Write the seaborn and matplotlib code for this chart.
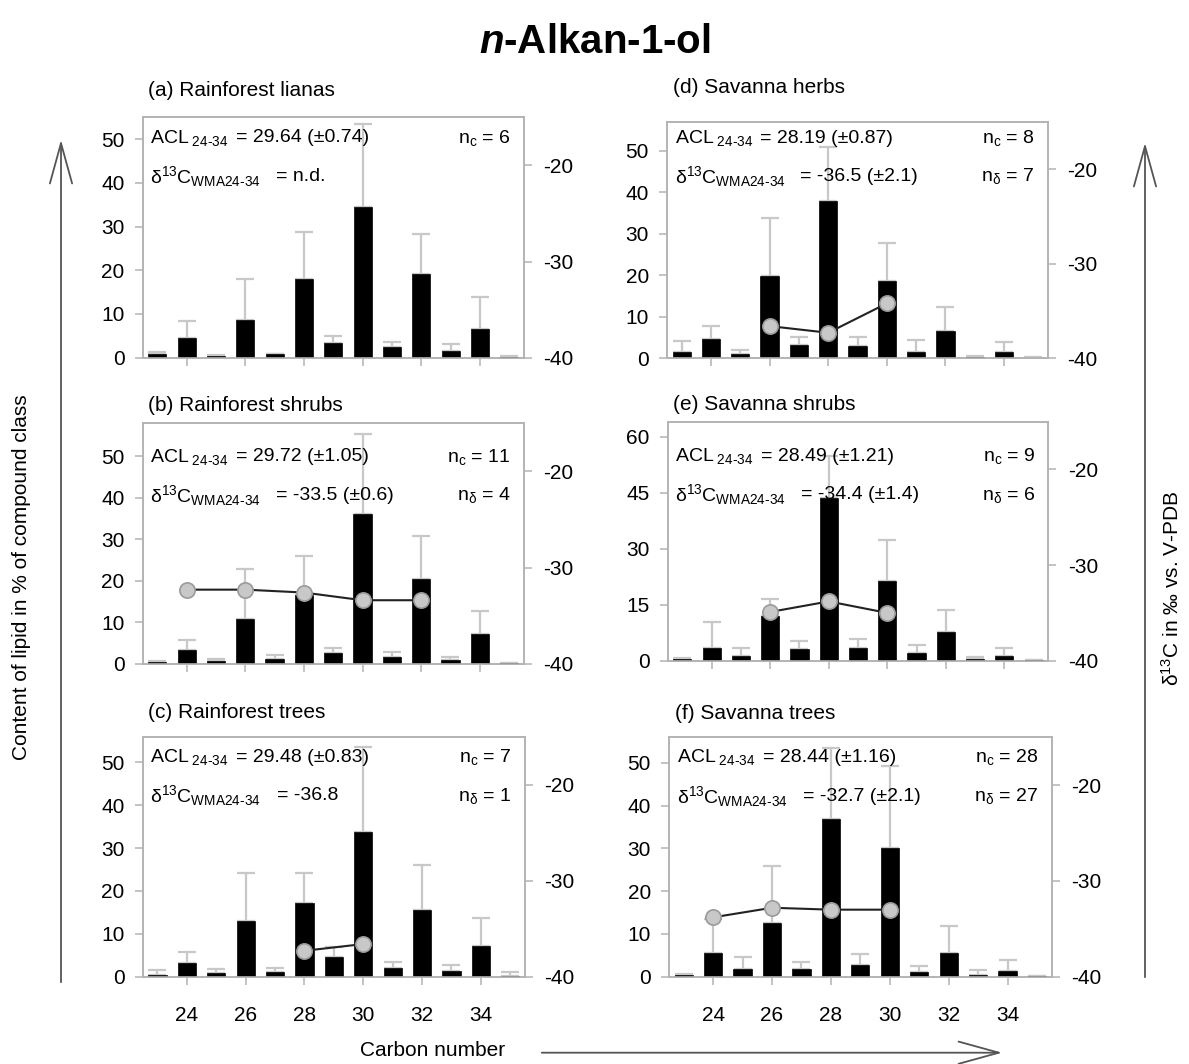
import matplotlib
matplotlib.use("Agg")
import matplotlib.pyplot as plt
from matplotlib.patches import FancyArrowPatch
import seaborn as sns

sns.set_theme(style="white")
plt.rcParams["font.family"] = ["Liberation Sans", "DejaVu Sans"]
plt.rcParams["mathtext.fontset"] = "custom"
plt.rcParams["mathtext.rm"] = "Liberation Sans"
plt.rcParams["mathtext.it"] = "Liberation Sans:italic"
plt.rcParams["mathtext.bf"] = "Liberation Sans:bold"
plt.rcParams["mathtext.bfit"] = "Liberation Sans:italic:bold"
plt.rcParams["mathtext.default"] = "regular"
plt.rcParams["axes.unicode_minus"] = False
plt.rcParams["text.color"] = "black"

# carbon chain length of each bar
carbon = list(range(23, 36))
even_ticks = [24, 26, 28, 30, 32, 34]

# mean content (% of compound class) and one SD
lianas_mean = [0.8, 4.5, 0.5, 8.7, 0.8, 18.1, 3.3, 34.4, 2.4, 19.2, 1.6, 6.6, 0.2]
lianas_sd = [0.4, 4.0, 0.1, 9.2, 0.1, 10.7, 1.7, 19.0, 1.3, 9.2, 1.5, 7.2, 0.1]

rf_shrubs_mean = [0.5, 3.3, 0.7, 10.7, 1.2, 16.6, 2.7, 36.2, 1.5, 20.5, 0.9, 7.2, 0.1]
rf_shrubs_sd = [0.1, 2.4, 0.4, 12.2, 0.9, 9.3, 1.2, 19.2, 1.3, 10.3, 0.6, 5.4, 0.05]

rf_trees_mean = [0.4, 3.3, 0.8, 12.9, 1.2, 17.1, 4.6, 33.7, 2.0, 15.6, 1.4, 7.2, 0.2]
rf_trees_sd = [1.1, 2.4, 0.9, 11.2, 0.8, 7.2, 2.4, 19.8, 1.5, 10.5, 1.3, 6.6, 0.8]

sv_herbs_mean = [1.4, 4.6, 1.1, 19.8, 3.3, 37.8, 2.9, 18.6, 1.6, 6.6, 0.4, 1.6, 0.15]
sv_herbs_sd = [2.8, 3.2, 0.9, 14.0, 1.8, 13.2, 2.2, 9.2, 2.9, 5.7, 0.2, 2.4, 0.05]

sv_shrubs_mean = [0.45, 3.5, 1.2, 11.9, 3.1, 43.7, 3.3, 21.3, 2.0, 7.8, 0.5, 1.3, 0.1]
sv_shrubs_sd = [0.15, 6.8, 2.1, 4.5, 2.3, 11.0, 2.6, 10.9, 2.2, 5.9, 0.4, 2.0, 0.05]

sv_trees_mean = [0.4, 5.5, 1.7, 12.5, 1.9, 37.0, 2.8, 30.1, 1.1, 5.5, 0.5, 1.4, 0.1]
sv_trees_sd = [0.2, 8.0, 2.8, 13.3, 1.6, 16.4, 2.4, 19.1, 1.3, 6.3, 1.0, 2.6, 0.05]

# delta13C (per mil) of single homologues
rf_shrubs_d13c_x = [24, 26, 28, 30, 32]
rf_shrubs_d13c = [-32.3, -32.3, -32.6, -33.4, -33.4]
rf_trees_d13c_x = [28, 30]
rf_trees_d13c = [-37.3, -36.6]
sv_herbs_d13c_x = [26, 28, 30]
sv_herbs_d13c = [-36.6, -37.3, -34.2]
sv_shrubs_d13c_x = [26, 28, 30]
sv_shrubs_d13c = [-34.9, -33.8, -35.0]
sv_trees_d13c_x = [24, 26, 28, 30]
sv_trees_d13c = [-33.8, -32.8, -33.0, -33.0]

titles = ["(a) Rainforest lianas", "(b) Rainforest shrubs", "(c) Rainforest trees",
          "(d) Savanna herbs", "(e) Savanna shrubs", "(f) Savanna trees"]
acl_text = ["= 29.64 (±0.74)", "= 29.72 (±1.05)", "= 29.48 (±0.83)",
            "= 28.19 (±0.87)", "= 28.49 (±1.21)", "= 28.44 (±1.16)"]
wma_text = ["= n.d.", "= -33.5 (±0.6)", "= -36.8",
            "= -36.5 (±2.1)", "= -34.4 (±1.4)", "= -32.7 (±2.1)"]
n_c = ["6", "11", "7", "8", "9", "28"]
n_d = [None, "4", "1", "7", "6", "27"]

# layout: axes box in pixels (left, top, right, bottom), y max, title gap
W, H = 1189, 1064
panels = [
    dict(box=(142.7, 117.3, 524.0, 357.7), ymax=55, yt=[0, 10, 20, 30, 40, 50], ty=(0.915, 0.755), gap=27,
         mean=lianas_mean, sd=lianas_sd, dx=[], dy=[], bottom=False),
    dict(box=(142.7, 423.3, 523.7, 663.7), ymax=58, yt=[0, 10, 20, 30, 40, 50], ty=(0.86, 0.70), gap=18,
         mean=rf_shrubs_mean, sd=rf_shrubs_sd, dx=rf_shrubs_d13c_x, dy=rf_shrubs_d13c, bottom=False),
    dict(box=(142.7, 736.7, 525.0, 976.7), ymax=56, yt=[0, 10, 20, 30, 40, 50], ty=(0.915, 0.755), gap=24,
         mean=rf_trees_mean, sd=rf_trees_sd, dx=rf_trees_d13c_x, dy=rf_trees_d13c, bottom=True),
    dict(box=(667.0, 121.7, 1048.0, 358.3), ymax=57, yt=[0, 10, 20, 30, 40, 50], ty=(0.93, 0.77), gap=34,
         mean=sv_herbs_mean, sd=sv_herbs_sd, dx=sv_herbs_d13c_x, dy=sv_herbs_d13c, bottom=False),
    dict(box=(667.7, 421.7, 1048.3, 660.7), ymax=64, yt=[0, 15, 30, 45, 60], ty=(0.855, 0.695), gap=17,
         mean=sv_shrubs_mean, sd=sv_shrubs_sd, dx=sv_shrubs_d13c_x, dy=sv_shrubs_d13c, bottom=False),
    dict(box=(669.0, 737.3, 1051.7, 976.7), ymax=56, yt=[0, 10, 20, 30, 40, 50], ty=(0.917, 0.753), gap=24,
         mean=sv_trees_mean, sd=sv_trees_sd, dx=sv_trees_d13c_x, dy=sv_trees_d13c, bottom=True),
]

spine_col = "#b3b3b3"
err_col = "#c8c8c8"
fs_ann = 14

fig = plt.figure(figsize=(W / 100, H / 100), dpi=100)

for i, p in enumerate(panels):
    l, t, r, b = p["box"]
    ax = fig.add_axes([l / W, 1 - b / H, (r - l) / W, (b - t) / H])

    sns.barplot(x=carbon, y=p["mean"], native_scale=True, color="black", saturation=1,
                width=0.62, errorbar=None, ax=ax, zorder=3, edgecolor="black", linewidth=0.5)
    ax.errorbar(carbon, p["mean"], yerr=[[0] * len(carbon), p["sd"]], fmt="none",
                ecolor=err_col, elinewidth=1.6, capsize=6.5, capthick=1.6, zorder=2)

    ax.set_xlim(22.5, 35.5)
    ax.set_ylim(0, p["ymax"])
    ax.set_yticks(p["yt"])
    ax.set_xticks(even_ticks)
    if p["bottom"]:
        ax.set_xticklabels([str(c) for c in even_ticks])
    else:
        ax.set_xticklabels([])
    ax.set_xlabel("")
    ax.set_ylabel("")
    ax.tick_params(axis="y", left=True, direction="out", length=6, width=1.1,
                   color=spine_col, labelcolor="black", labelsize=15, pad=7)
    ax.tick_params(axis="x", bottom=True, direction="out", length=6, width=1.1,
                   color=spine_col, labelcolor="black", labelsize=15, pad=15)

    ax2 = ax.twinx()
    if p["dx"]:
        sns.lineplot(x=p["dx"], y=p["dy"], ax=ax2, color="#222222", lw=1.5, marker="o",
                     markersize=11, markerfacecolor="#c8c8c8", markeredgecolor="#9a9a9a",
                     markeredgewidth=1.2)
    ax2.set_ylim(-40, -15)
    ax2.set_yticks([-40, -30, -20])
    ax2.set_ylabel("")
    ax2.tick_params(axis="y", right=True, direction="out", length=6, width=1.1,
                    color=spine_col, labelcolor="black", labelsize=15, pad=8)

    for a in (ax, ax2):
        for s in a.spines.values():
            s.set_color(spine_col)
            s.set_linewidth(1.2)

    y1, y2 = p["ty"]
    ax.text(0.02, y1, r"ACL$_{\text{ 24-34}}$", transform=ax.transAxes, fontsize=fs_ann, va="center")
    ax.text(0.245, y1, acl_text[i], transform=ax.transAxes, fontsize=fs_ann, va="center")
    ax.text(0.02, y2, r"$\delta^{13}$C$_{\text{WMA24-34}}$", transform=ax.transAxes,
            fontsize=fs_ann, va="center")
    ax.text(0.35, y2, wma_text[i], transform=ax.transAxes, fontsize=fs_ann, va="center")
    ax.text(0.965, y1, r"n$_{\text{c}}$ = " + n_c[i], transform=ax.transAxes,
            fontsize=fs_ann, va="center", ha="right")
    if n_d[i] is not None:
        ax.text(0.965, y2, r"n$_{\delta}$ = " + n_d[i], transform=ax.transAxes,
                fontsize=fs_ann, va="center", ha="right")

    ax.text(0.015, 1 + p["gap"] / (b - t), titles[i], transform=ax.transAxes,
            fontsize=15, va="center", ha="left")

fig.text(0.5, 1 - 42 / H, r"$\mathbfit{n}$-Alkan-1-ol", fontsize=29, fontweight="bold",
         ha="center", va="center")

fig.text(22 / W, 1 - 577 / H, "Content of lipid in % of compound class", rotation=90,
         fontsize=15, ha="center", va="center")
fig.text(1172 / W, 1 - 588 / H, r"$\delta^{13}$C in ‰ vs. V-PDB", rotation=90,
         fontsize=15, ha="center", va="center")
fig.text(433 / W, 1 - 1050 / H, "Carbon number", fontsize=15, ha="center", va="center")

arrow_kw = dict(transform=fig.transFigure, arrowstyle="->,head_length=2.9,head_width=0.8",
                mutation_scale=10, color="#555555", lw=1.3)
fig.patches.append(FancyArrowPatch((61 / W, 1 - 985 / H), (61 / W, 1 - 137 / H), **arrow_kw))
fig.patches.append(FancyArrowPatch((1145 / W, 1 - 980 / H), (1145 / W, 1 - 140 / H), **arrow_kw))
fig.patches.append(FancyArrowPatch((539 / W, 1 - 1052.7 / H), (1005 / W, 1 - 1052.7 / H), **arrow_kw))

fig.savefig("out.png", dpi=100)
